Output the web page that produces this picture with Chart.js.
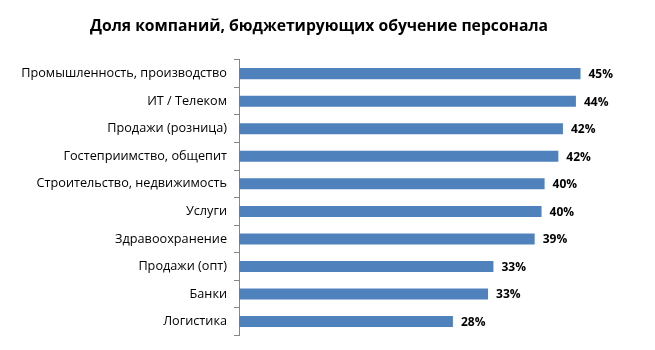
<!DOCTYPE html>
<html>
<head>
<meta charset="utf-8">
<script src="https://cdn.jsdelivr.net/npm/chart.js@4"></script>
<style>
    html, body { margin: 0; padding: 0; background: #fff; }
    #wrap { width: 655px; height: 350px; }
</style>
</head>
<body>
<div id="wrap"><canvas id="barChart"></canvas></div>
<script>
const categories = [
    'Промышленность, производство',
    'ИТ / Телеком',
    'Продажи (розница)',
    'Гостеприимство, общепит',
    'Строительство, недвижимость',
    'Услуги',
    'Здравоохранение',
    'Продажи (опт)',
    'Банки',
    'Логистика'
];
const shares = [44.7, 44.1, 42.4, 41.8, 40.0, 39.6, 38.7, 33.3, 32.6, 28.0];
const axisMax = 50;

const FONT = "'Open Sans', 'Noto Sans', sans-serif";

// percent labels to the right of each bar
const valueLabels = {
    id: 'valueLabels',
    afterDatasetsDraw(chart) {
        const ctx = chart.ctx;
        const meta = chart.getDatasetMeta(0);
        ctx.save();
        ctx.font = 'bold 12px ' + FONT;
        ctx.fillStyle = '#000';
        ctx.textAlign = 'left';
        ctx.textBaseline = 'middle';
        meta.data.forEach((bar, i) => {
            ctx.fillText(Math.round(shares[i]) + '%', bar.x + 8, bar.y + 1);
        });
        ctx.restore();
    }
};

document.addEventListener('DOMContentLoaded', function() {
    let ctx = document.getElementById('barChart').getContext('2d');
    window.barChart = new Chart(ctx, {
        type: 'bar',
        data: {
            labels: categories,
            datasets: [{
                data: shares,
                backgroundColor: '#4F81BD',
                barPercentage: 0.4,
                categoryPercentage: 1
            }]
        },
        options: {
            indexAxis: 'y',
            responsive: true,
            maintainAspectRatio: false,
            animation: false,
            layout: { padding: { left: 17, right: 34, top: 0, bottom: 12 } },
            plugins: {
                legend: { display: false },
                tooltip: { enabled: false },
                title: {
                    display: true,
                    text: 'Доля компаний, бюджетирующих обучение персонала',
                    color: '#000',
                    font: { family: FONT, size: 15.7, weight: 'bold' },
                    padding: { top: 17, bottom: 24 }
                }
            },
            scales: {
                x: {
                    display: false,
                    min: 0,
                    max: axisMax
                },
                y: {
                    afterFit: function(scale) { scale.width = 222; },
                    border: { display: true, color: '#868686', width: 1 },
                    grid: {
                        drawOnChartArea: false,
                        drawTicks: true,
                        tickLength: 5,
                        color: '#868686',
                        offset: true
                    },
                    ticks: {
                        color: '#000',
                        padding: 7,
                        font: { family: FONT, size: 12.7 }
                    }
                }
            }
        },
        plugins: [valueLabels]
    });
});
</script>
</body>
</html>
